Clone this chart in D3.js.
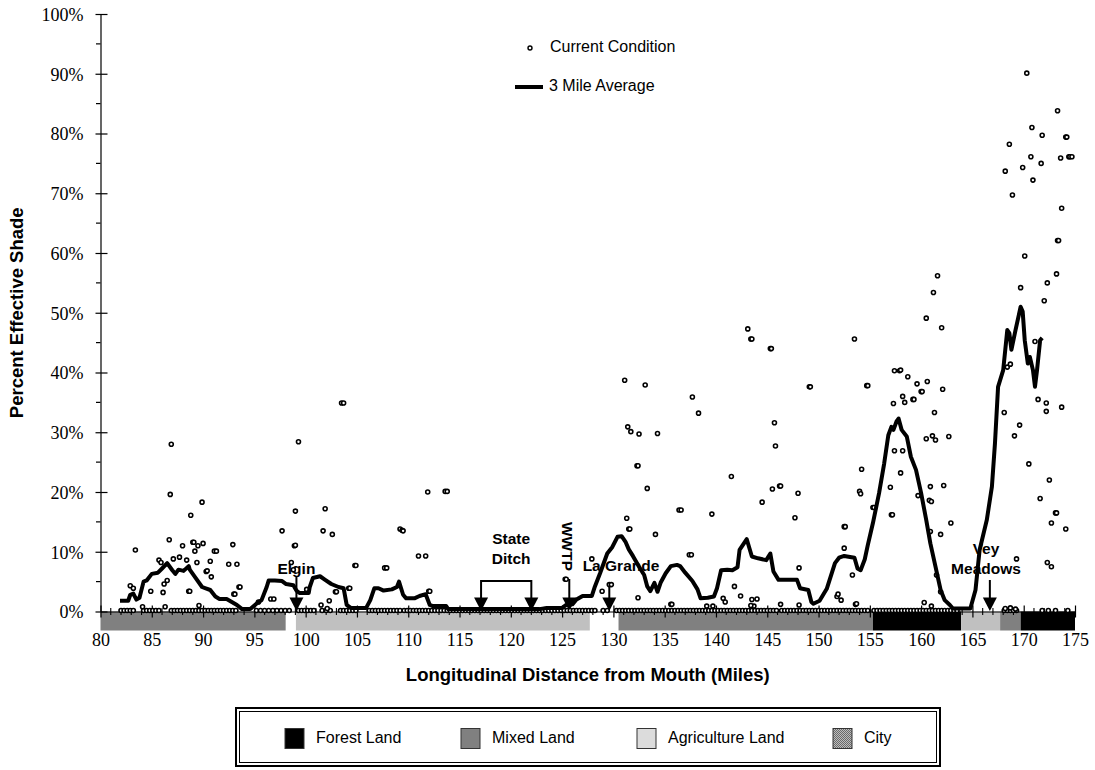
<!DOCTYPE html>
<html>
<head>
<meta charset="utf-8">
<script src="https://cdn.jsdelivr.net/npm/d3@7"></script>
<style>
  body { margin: 0; background: #fff; }
  svg { display: block; }
</style>
</head>
<body>
<svg id="chart" width="1095" height="770"></svg>
<script>
// ---- Axis ticks ----
const xMajorTicks = [80, 85, 90, 95, 100, 105, 110, 115, 120, 125, 130, 135, 140, 145, 150, 155, 160, 165, 170, 175];
const yMajorTicks = [0, 10, 20, 30, 40, 50, 60, 70, 80, 90, 100];

// ---- Current condition: sites with no effective shade (mile) ----
const zeroMiles = [
  82.0, 82.3, 82.6, 82.9, 83.2,
  84.2, 84.5, 84.8, 85.1, 85.4, 85.7,
  86.9, 87.2, 87.5, 87.8, 88.1, 88.4, 88.7,
  89.0, 89.3, 89.6, 89.9, 90.2, 90.5, 90.8,
  91.1, 91.4, 91.7, 92.0, 92.3, 92.6, 92.9, 93.2,
  95.2, 95.6, 96.0, 96.4, 96.8, 97.2, 97.6, 98.0, 98.4,
  99.3, 99.6, 99.9, 100.2, 100.5, 100.8,
  101.6, 102.0, 102.4,
  103.4, 103.7, 104.0, 104.3, 104.6, 104.9,
  106.2, 106.5, 106.8, 107.1, 107.4, 107.7, 108.0, 108.3, 108.6, 108.9, 109.2,
  109.6, 109.9, 110.2, 110.5, 110.8, 111.1, 111.4, 111.7, 112.0, 112.3, 112.6, 112.9,
  113.2, 113.5, 113.8, 114.1, 114.4, 114.7, 115.0, 115.3, 115.6, 115.9, 116.2, 116.5,
  116.8, 117.1, 117.4, 117.7, 118.0, 118.3, 118.6, 118.9, 119.2, 119.5, 119.8, 120.1,
  120.4, 120.7, 121.0, 121.3, 121.6, 121.9, 122.2, 122.5, 122.8, 123.1, 123.4, 123.7,
  124.0, 124.3, 124.6, 124.9, 125.2, 125.5, 125.8, 126.1, 126.4, 126.7, 127.0, 127.3,
  127.6, 127.9, 128.2,
  129.0, 129.4,
  130.3, 130.6, 130.9, 131.2, 131.5, 131.8, 132.1, 132.4, 132.7, 133.0, 133.3, 133.6,
  133.9, 134.2, 134.5, 134.8, 135.1, 135.4, 135.7, 136.0, 136.3, 136.6, 136.9, 137.2,
  137.5, 137.8, 138.1, 138.4, 138.7, 139.0, 139.3, 139.6, 139.9, 140.2, 140.5, 140.8,
  141.1, 141.4, 141.7, 142.0, 142.3, 142.6, 142.9, 143.2, 143.5, 143.8, 144.1, 144.4,
  144.7, 145.0, 145.3, 145.6, 145.9,
  146.4, 146.7, 147.0, 147.3, 147.6, 147.9, 148.2, 148.5, 148.8, 149.1, 149.4, 149.7,
  150.0, 150.3, 150.6, 150.9, 151.2, 151.5, 151.8, 152.1, 152.4, 152.7, 153.0, 153.3,
  153.6, 153.9, 154.2, 154.5, 154.8,
  155.4, 155.7, 156.0, 156.3, 156.6, 156.9, 157.2, 157.5, 157.8, 158.1, 158.4, 158.7,
  159.0, 159.3, 159.6, 159.9, 160.2, 160.5, 160.8, 161.1, 161.4, 161.7, 162.0, 162.3,
  162.6, 162.9, 163.2, 163.5,
  168.1, 168.4, 168.7, 169.0, 169.3,
  171.8, 172.4, 173.1, 174.3
];

// ---- Current condition: sites with shade [mile, percent] ----
const shadedSites = [
  [83.4,10.3],[82.9,4.3],[83.2,3.9],[84.9,3.4],[84.1,0.8],[85.7,8.6],[85.9,8.2],[86.1,3.2],
  [86.2,4.6],[86.5,5.2],[86.3,0.8],[86.7,12.0],[86.8,19.6],[86.9,28.0],[87.1,8.8],[87.7,9.1],
  [88.0,11.0],[88.4,8.6],[88.6,3.4],[88.7,3.4],[88.8,16.1],[89.0,11.6],[89.1,11.6],[89.2,10.1],
  [89.4,8.2],[89.5,11.0],[89.6,1.0],[89.9,18.3],[90.0,11.4],[90.3,6.7],[90.4,6.8],[90.7,8.4],
  [90.8,5.8],[91.1,10.1],[91.3,10.1],[92.5,7.9],[92.9,11.2],[93.0,2.9],[93.1,2.9],[93.3,7.9],
  [93.5,4.1],[93.6,4.1],[95.4,1.6],[96.6,2.1],[96.9,2.1],
  [97.7,13.5],[98.6,8.2],[98.8,7.0],[98.9,11.0],[99.0,11.1],[99.0,16.8],[99.3,28.4],[100.1,3.7],
  [101.5,1.1],[101.7,13.5],[101.9,17.2],[102.1,0.5],[102.3,1.8],[102.6,12.9],[102.9,3.3],
  [103.0,3.3],[103.5,34.9],[103.7,34.9],[104.2,3.9],[104.3,3.9],[104.8,7.7],[104.9,7.7],
  [107.7,7.3],[107.9,7.3],[109.2,13.8],[109.4,13.6],[109.5,13.5],[111.0,9.3],[111.7,9.3],
  [111.9,20.0],[112.0,3.4],[112.1,3.4],[113.6,20.1],[113.8,20.1],
  [125.3,5.4],[125.4,5.4],[127.9,8.8],[128.9,3.4],[129.6,4.5],[129.8,4.5],[131.1,38.7],
  [131.3,15.6],[131.4,30.9],[131.5,13.8],[131.6,13.8],[131.7,30.1],[132.3,24.4],[132.4,24.4],
  [132.4,2.3],[132.5,29.7],[133.1,37.9],[133.3,20.6],[134.1,12.9],[134.3,29.8],[135.6,1.2],
  [135.7,1.2],[136.4,17.0],[136.6,17.0],[137.4,9.5],[137.6,9.5],[137.7,35.9],[138.3,33.2],
  [139.1,0.9],[139.6,16.3],[139.7,0.9],[140.7,2.2],[140.9,1.6],[141.5,22.6],[141.8,4.2],
  [142.4,2.6],[143.7,0.9],[144.0,2.1],
  [143.1,47.3],[143.4,45.6],[143.5,45.6],[143.4,1.0],[143.5,2.0],[144.5,18.3],[145.3,44.0],
  [145.4,44.0],[145.5,20.5],[145.7,31.6],[145.8,27.7],[146.2,21.0],[146.3,21.0],[146.3,1.2],
  [147.7,15.7],[148.0,19.8],[148.1,7.3],[148.1,1.1],[149.1,37.6],[149.2,37.6],[151.8,2.5],
  [151.9,2.9],[152.2,1.9],[152.5,14.2],[152.6,14.2],[152.5,10.6],[153.3,6.1],[153.5,45.6],
  [153.6,1.2],[153.7,1.3],[154.0,20.1],[154.1,19.7],[154.2,23.8],[154.7,37.8],[154.8,37.8],
  [155.3,17.4],[155.4,17.4],
  [157.0,20.8],[157.1,16.2],[157.2,16.2],[157.3,34.8],[157.4,40.3],[157.4,26.9],[157.9,40.3],
  [158.0,40.4],[158.0,23.2],[158.2,36.0],[158.2,26.9],[158.4,35.0],[158.7,39.3],[159.2,35.5],
  [159.3,35.5],[159.6,38.1],[159.7,19.4],[160.0,36.8],[160.1,36.8],[160.3,1.5],[160.5,49.1],
  [160.5,28.9],[160.6,38.5],[160.8,18.6],[160.9,20.9],[160.9,13.4],[161.0,18.4],[161.0,0.9],
  [161.1,29.4],[161.2,53.4],[161.3,33.3],[161.4,28.7],[161.5,6.1],[161.6,56.2],[161.9,3.3],
  [161.9,12.9],[162.0,47.5],[162.1,37.2],[162.2,21.1],[162.7,29.3],[162.9,14.8],
  [168.1,33.3],[168.2,73.7],[168.2,0.5],[168.4,40.9],[168.6,78.2],[168.7,41.4],[168.7,0.6],
  [168.9,69.7],[169.1,29.4],[169.2,0.4],[169.3,8.8],[169.6,31.2],[169.7,54.2],[169.9,74.3],
  [170.1,59.5],[170.3,90.1],[170.5,24.7],[170.7,76.1],[170.8,81.0],[170.9,72.2],[171.1,45.2],
  [171.4,35.5],[171.6,18.9],[171.7,75.0],[171.8,79.7],[172.0,52.0],[172.2,34.9],[172.2,33.5],
  [172.3,55.0],[172.3,8.2],[172.5,22.0],[172.7,14.8],[172.7,7.5],[173.1,16.5],[173.2,16.5],
  [173.2,56.5],[173.3,62.1],[173.4,62.1],[173.3,83.8],[173.6,75.9],[173.7,67.5],[173.7,34.2],
  [174.1,79.4],[174.2,79.4],[174.1,13.8],[174.4,76.1],[174.5,76.1],[174.7,76.1]
];

// ---- 3 mile moving average [mile, percent] ----
const threeMileAvg = [
  [81.9,1.8],[82.7,1.8],[82.9,2.8],[83.2,3.0],[83.5,2.0],[83.8,2.3],[84.2,5.0],[84.5,5.2],
  [85.0,6.3],[85.6,6.5],[86.0,7.2],[86.5,8.1],[87.0,6.9],[87.3,6.3],[87.6,7.0],[88.1,6.8],
  [88.6,7.6],[88.7,7.0],[89.2,5.8],[89.9,4.1],[90.2,3.9],[90.7,3.6],[91.2,2.5],[91.6,2.1],
  [92.3,2.1],[92.8,1.6],[93.3,1.1],[93.8,0.4],[94.6,0.4],[95.2,1.3],[95.7,1.9],[96.2,4.1],
  [96.4,5.2],[97.0,5.2],[97.7,5.1],[98.1,4.6],[98.8,4.4],[99.1,3.5],[99.4,3.1],[100.3,3.1],
  [100.4,4.1],[100.7,5.6],[101.4,5.9],[101.9,5.3],[102.5,4.6],[103.2,4.1],[103.7,3.9],
  [104.0,1.1],[104.4,0.6],[105.9,0.6],[106.3,1.9],[106.7,3.9],[107.1,3.9],[107.6,3.5],
  [108.4,3.7],[108.9,4.1],[109.1,5.0],[109.5,2.8],[109.8,2.2],[110.6,2.2],[111.1,2.6],
  [111.7,2.9],[112.1,1.1],[112.4,0.9],[113.7,0.9],[113.9,0.4],[122.8,0.4],[123.5,0.6],
  [125.0,0.6],[125.4,1.1],[126.0,1.2],[126.4,2.0],[127.0,2.6],[127.9,2.6],[128.2,4.2],
  [128.7,6.4],[129.4,9.7],[129.9,10.8],[130.4,12.5],[130.8,12.6],[131.2,11.6],[131.5,10.4],
  [131.9,9.3],[132.5,7.5],[133.0,6.1],[133.3,4.2],[133.6,3.4],[134.0,4.8],[134.3,3.3],
  [134.6,4.8],[135.1,6.4],[135.6,7.6],[136.2,7.8],[136.5,7.6],[137.0,6.5],[137.7,5.1],
  [138.2,3.7],[138.5,2.2],[139.2,2.3],[139.8,2.5],[140.1,3.9],[140.5,6.9],[141.1,7.0],
  [141.6,6.9],[142.1,7.4],[142.3,10.3],[143.0,12.1],[143.5,9.2],[144.1,8.9],[144.9,8.6],
  [145.3,9.7],[145.6,6.7],[146.1,5.3],[147.9,5.3],[148.2,3.9],[149.0,3.6],[149.3,1.6],
  [149.5,1.3],[150.1,1.8],[150.8,3.8],[151.6,8.1],[152.0,9.0],[152.5,9.3],[153.5,9.0],
  [153.8,7.2],[154.1,6.9],[154.5,8.7],[154.8,11.1],[155.3,14.8],[155.9,19.8],[156.4,24.8],
  [156.8,29.5],[157.1,30.9],[157.3,30.4],[157.6,31.8],[157.8,32.3],[158.1,30.4],[158.6,29.3],
  [159.0,25.9],[159.5,23.7],[160.0,19.8],[160.5,15.3],[160.9,11.4],[161.4,7.5],[161.9,3.6],
  [162.3,1.9],[162.8,1.1],[163.1,0.5],[164.8,0.5],[165.3,3.6],[165.7,10.3],[166.4,15.3],
  [166.9,20.9],[167.2,28.2],[167.5,37.6],[168.0,40.4],[168.4,47.1],[168.6,46.6],[168.8,43.8],
  [169.2,47.1],[169.7,51.0],[169.9,50.2],[170.1,45.4],[170.4,41.5],[170.6,42.6],[170.9,40.4],
  [171.1,37.6],[171.3,40.4],[171.6,45.4],[171.8,45.8]
];

// ---- Land use along the river ----
const landStart = [80, 99.05, 130.5, 155.3, 163.9, 167.7, 169.7];
const landEnd   = [98.05, 127.7, 155.3, 163.9, 167.7, 169.7, 175];
const landType  = ["Mixed", "Agriculture", "Mixed", "Forest", "Agriculture", "Mixed", "Forest"];
const landLegend = ["Forest Land", "Mixed Land", "Agriculture Land", "City"];

// ---- Landmarks (river mile) ----
const elginMile = 99.1;
const stateDitchMiles = [117.1, 122.0];
const wwtpMile = 125.7;
const laGrandeMile = 129.6;
const veyMeadowsMile = 166.7;

// ================= drawing =================
const svg = d3.select("#chart");
const x = d3.scaleLinear().domain([80, 175]).range([100.5, 1075]);
const y = d3.scaleLinear().domain([0, 100]).range([611.5, 14]);

const SANS = "'Liberation Sans', Arial, sans-serif";
const SERIF = "'Liberation Serif', 'Times New Roman', serif";

const defs = svg.append("defs");
const pat = defs.append("pattern").attr("id", "cityFill")
  .attr("width", 2).attr("height", 2).attr("patternUnits", "userSpaceOnUse");
pat.append("rect").attr("width", 2).attr("height", 2).attr("fill", "#bdbdbd");
pat.append("rect").attr("width", 1).attr("height", 1).attr("fill", "#6a6a6a");
pat.append("rect").attr("x", 1).attr("y", 1).attr("width", 1).attr("height", 1).attr("fill", "#6a6a6a");

const barFill = { Forest: "#000000", Mixed: "#808080", Agriculture: "#c0c0c0", City: "url(#cityFill)" };
const legendFill = ["#000000", "#808080", "#dcdcdc", "url(#cityFill)"];

// land-use strip under the axis
const barTop = y(0), barH = 19;
svg.append("g").selectAll("rect")
  .data(landStart.map((s, i) => ({ s, e: landEnd[i], t: landType[i] })))
  .join("rect")
  .attr("x", d => x(d.s)).attr("y", barTop)
  .attr("width", d => x(d.e) - x(d.s)).attr("height", barH)
  .attr("fill", d => barFill[d.t]);

// y axis
const yAxis = svg.append("g").attr("transform", `translate(${x(80)},0)`)
  .call(d3.axisLeft(y).tickValues(yMajorTicks).tickSizeInner(5).tickSizeOuter(0)
    .tickFormat(d => d + "%"));
yAxis.select(".domain").attr("stroke", "#000").attr("stroke-width", 1.2);
yAxis.selectAll(".tick line").attr("x1", 7).attr("stroke", "#000").attr("stroke-width", 1.2);
yAxis.selectAll(".tick text").attr("x", -17).attr("dy", "0.35em")
  .attr("font-family", SERIF).attr("font-size", 18).attr("fill", "#000");
yAxis.append("g").selectAll("line")
  .data(d3.range(5, 100, 10))
  .join("line")
  .attr("x1", -4.5).attr("x2", 0).attr("y1", d => y(d)).attr("y2", d => y(d))
  .attr("stroke", "#000").attr("stroke-width", 1.2);

// x axis
const xAxis = svg.append("g").attr("transform", `translate(0,${y(0)})`)
  .call(d3.axisBottom(x).tickValues(xMajorTicks).tickSizeInner(6).tickSizeOuter(0)
    .tickFormat(d3.format("d")));
xAxis.select(".domain").attr("stroke", "#000").attr("stroke-width", 1.2);
xAxis.selectAll(".tick line").attr("y1", -6).attr("stroke", "#000").attr("stroke-width", 1.2);
xAxis.selectAll(".tick text").attr("y", 28).attr("dy", "0.35em")
  .attr("font-family", SERIF).attr("font-size", 18).attr("fill", "#000");
xAxis.append("g").selectAll("line")
  .data(d3.range(81, 175).filter(d => d % 5 !== 0))
  .join("line")
  .attr("x1", d => x(d)).attr("x2", d => x(d)).attr("y1", -3.5).attr("y2", 3.5)
  .attr("stroke", "#000").attr("stroke-width", 1.1);

// axis titles
svg.append("text")
  .attr("transform", `translate(18,${(y(0) + y(100)) / 2})rotate(-90)`)
  .attr("text-anchor", "middle").attr("dominant-baseline", "middle")
  .attr("font-family", SANS).attr("font-weight", "bold").attr("font-size", 18.5)
  .text("Percent Effective Shade");
svg.append("text")
  .attr("x", (x(80) + x(175)) / 2).attr("y", 676)
  .attr("text-anchor", "middle").attr("dominant-baseline", "middle")
  .attr("font-family", SANS).attr("font-weight", "bold").attr("font-size", 18.5)
  .text("Longitudinal Distance from Mouth (Miles)");

// landmark annotations
const ann = svg.append("g").attr("font-family", SANS).attr("font-weight", "bold")
  .attr("font-size", 15.5).attr("text-anchor", "middle").attr("dominant-baseline", "middle");
const tipY = y(0) - 0.5, headH = 13.5, headW = 7;
function arrowHead(mile) {
  const cx = x(mile), base = tipY - headH;
  ann.append("path").attr("d", `M${cx - headW},${base}L${cx + headW},${base}L${cx},${tipY}Z`).attr("fill", "#000");
}
function arrow(mile, top) {
  const cx = x(mile);
  ann.append("line").attr("x1", cx).attr("x2", cx).attr("y1", top).attr("y2", tipY - headH + 1)
    .attr("stroke", "#000").attr("stroke-width", 2);
  arrowHead(mile);
}
arrow(elginMile, 576);
ann.append("text").attr("x", x(elginMile)).attr("y", 570).text("Elgin");

const sdA = x(stateDitchMiles[0]), sdB = x(stateDitchMiles[1]);
ann.append("path").attr("d", `M${sdA},${tipY - headH + 1}V581H${sdB}V${tipY - headH + 1}`)
  .attr("fill", "none").attr("stroke", "#000").attr("stroke-width", 2);
stateDitchMiles.forEach(arrowHead);
ann.append("text").attr("x", (sdA + sdB) / 2 + 5).attr("y", 540).text("State");
ann.append("text").attr("x", (sdA + sdB) / 2 + 5).attr("y", 559.5).text("Ditch");

arrow(wwtpMile, 579);
ann.append("text").attr("transform", `translate(${x(wwtpMile) - 3.5},546.5)rotate(90)`).text("WWTP");

arrow(laGrandeMile, 582);
ann.append("text").attr("x", 621).attr("y", 566.5).text("La Grande");

arrow(veyMeadowsMile, 580);
ann.append("text").attr("x", 986).attr("y", 550).text("Vey");
ann.append("text").attr("x", 986).attr("y", 569.5).text("Meadows");

// current condition points
const pts = zeroMiles.map(m => [m, 0]).concat(shadedSites);
svg.append("g").selectAll("circle")
  .data(pts)
  .join("circle")
  .attr("cx", d => x(d[0])).attr("cy", d => y(d[1]) - (d[1] === 0 ? 1 : 0))
  .attr("r", 2)
  .attr("fill", "#fff").attr("stroke", "#000").attr("stroke-width", 1.6);

// 3 mile average line
svg.append("path")
  .datum(threeMileAvg)
  .attr("d", d3.line().x(d => x(d[0])).y(d => y(d[1])))
  .attr("fill", "none").attr("stroke", "#000").attr("stroke-width", 4)
  .attr("stroke-linejoin", "round").attr("stroke-linecap", "butt");

// series legend
const sl = svg.append("g").attr("font-family", SANS).attr("font-size", 16).attr("dominant-baseline", "middle");
sl.append("circle").attr("cx", 530).attr("cy", 48).attr("r", 2)
  .attr("fill", "#fff").attr("stroke", "#000").attr("stroke-width", 1.4);
sl.append("text").attr("x", 550).attr("y", 48).text("Current Condition");
sl.append("line").attr("x1", 515).attr("x2", 543).attr("y1", 87).attr("y2", 87)
  .attr("stroke", "#000").attr("stroke-width", 4);
sl.append("text").attr("x", 549).attr("y", 87).text("3 Mile Average");

// land-use legend
const lg = svg.append("g");
lg.append("rect").attr("x", 236).attr("y", 708).attr("width", 704).attr("height", 58)
  .attr("fill", "#fff").attr("stroke", "#000").attr("stroke-width", 2);
lg.append("rect").attr("x", 239.5).attr("y", 711.5).attr("width", 697).attr("height", 51)
  .attr("fill", "none").attr("stroke", "#000").attr("stroke-width", 1);
const swatchX = [285, 461, 637, 833];
landLegend.forEach((name, i) => {
  lg.append("rect").attr("x", swatchX[i]).attr("y", 728.5).attr("width", 19).attr("height", 20)
    .attr("fill", legendFill[i]).attr("stroke", "#333").attr("stroke-width", 1);
  lg.append("text").attr("x", swatchX[i] + 31).attr("y", 738.5)
    .attr("dominant-baseline", "middle").attr("font-family", SANS).attr("font-size", 16)
    .text(name);
});
</script>
</body>
</html>
